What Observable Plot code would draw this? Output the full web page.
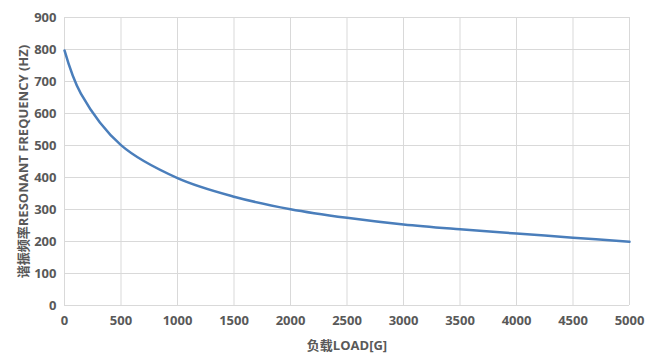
<!DOCTYPE html>
<html>
<head>
<meta charset="utf-8">
<script src="https://cdn.jsdelivr.net/npm/d3@7"></script>
<script src="https://cdn.jsdelivr.net/npm/@observablehq/plot@0.6"></script>
<style>
  html, body { margin: 0; padding: 0; background: #fff; }
  #chart { width: 649px; height: 361px; }
</style>
</head>
<body>
<div id="chart"></div>
<script>
const loads = [0, 145, 500, 1000, 1500, 2000, 2500, 3000, 3500, 4000, 4500, 5000];
const freqs = [797, 662, 501, 398, 340, 301, 274, 253, 238, 225, 212, 199];
const xTicks = [0, 500, 1000, 1500, 2000, 2500, 3000, 3500, 4000, 4500, 5000];
const yTicks = [0, 100, 200, 300, 400, 500, 600, 700, 800, 900];
const xLabel = "负载LOAD[G]";
const yLabel = "谐振频率RESONANT FREQUENCY (HZ)";

const data = loads.map((x, i) => ({x, y: freqs[i]}));

const chart = Plot.plot({
  width: 649,
  height: 361,
  marginLeft: 64,
  marginRight: 20,
  marginTop: 17,
  marginBottom: 56,
  style: {
    fontFamily: "'Open Sans', 'Noto Sans CJK SC', sans-serif",
    fontSize: "13px",
    fontWeight: "bold",
    color: "#595959",
    background: "#fff"
  },
  x: {domain: [0, 5000], ticks: xTicks, tickFormat: d3.format("d"), tickSize: 0, tickPadding: 10, label: xLabel, labelArrow: "none", labelAnchor: "center", labelOffset: 44},
  y: {domain: [0, 900], ticks: yTicks, tickFormat: d3.format("d"), tickSize: 0, tickPadding: 8, label: yLabel, labelArrow: "none", labelAnchor: "center", labelOffset: 46},
  marks: [
    Plot.gridX(xTicks, {stroke: "#d9d9d9", strokeOpacity: 1, strokeWidth: 1}),
    Plot.gridY(yTicks, {stroke: "#d9d9d9", strokeOpacity: 1, strokeWidth: 1}),
    Plot.line(data, {x: "x", y: "y", stroke: "#4a7ebb", strokeWidth: 2.5, curve: "catmull-rom"})
  ]
});
document.getElementById("chart").appendChild(chart);
</script>
</body>
</html>
